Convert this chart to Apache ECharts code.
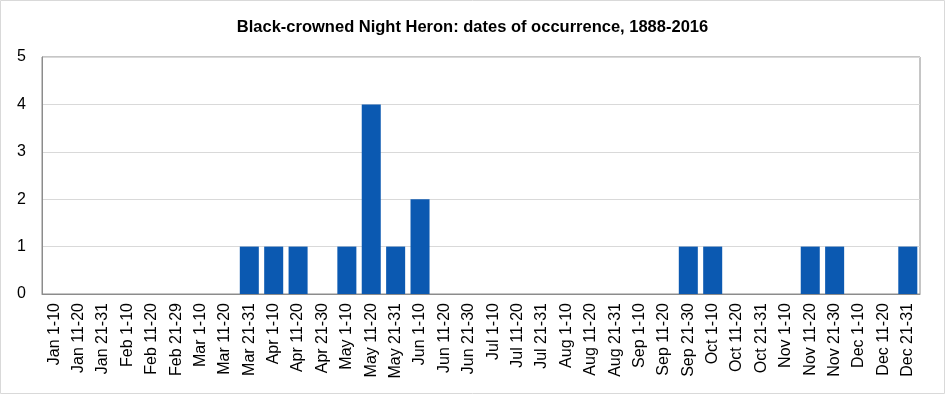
<!DOCTYPE html>
<html>
<head>
<meta charset="utf-8">
<script src="https://cdn.jsdelivr.net/npm/echarts@6/dist/echarts.min.js"></script>
<style>
html,body{margin:0;padding:0;background:#fff;}
#chart{width:945px;height:394px;}
</style>
</head>
<body>
<div id="chart"></div>
<script>
const categories = [
  "Jan 1-10","Jan 11-20","Jan 21-31","Feb 1-10","Feb 11-20","Feb 21-29",
  "Mar 1-10","Mar 11-20","Mar 21-31","Apr 1-10","Apr 11-20","Apr 21-30",
  "May 1-10","May 11-20","May 21-31","Jun 1-10","Jun 11-20","Jun 21-30",
  "Jul 1-10","Jul 11-20","Jul 21-31","Aug 1-10","Aug 11-20","Aug 21-31",
  "Sep 1-10","Sep 11-20","Sep 21-30","Oct 1-10","Oct 11-20","Oct 21-31",
  "Nov 1-10","Nov 11-20","Nov 21-30","Dec 1-10","Dec 11-20","Dec 21-31"
];
const occurrences = [
  0,0,0,0,0,0,
  0,0,1,1,1,0,
  1,4,1,2,0,0,
  0,0,0,0,0,0,
  0,0,1,1,0,0,
  0,1,1,0,0,1
];
const titleText = "Black-crowned Night Heron: dates of occurrence, 1888-2016";

const chart = echarts.init(document.getElementById('chart'), null, {renderer:'canvas'});
chart.setOption({
  animation: false,
  title: {
    text: titleText,
    left: 'center',
    top: 14,
    textStyle: {fontFamily: 'Liberation Sans, Arial, sans-serif', fontSize: 16.5, fontWeight: 'bold', color: '#000'}
  },
  graphic: [{
    type: 'rect',
    shape: {x: 0.5, y: 0.5, width: 944, height: 393},
    style: {fill: 'none', stroke: '#d9d9d9', lineWidth: 1},
    silent: true
  }],
  grid: {
    left: 42, right: 25, top: 57, bottom: 100,
    show: true, borderColor: '#8c8c8c', borderWidth: 1, backgroundColor: 'transparent'
  },
  xAxis: {
    type: 'category',
    data: categories,
    axisLine: {lineStyle: {color: '#8c8c8c'}},
    axisTick: {show: false},
    axisLabel: {
      interval: 0, rotate: 90, margin: 9,
      fontFamily: 'Liberation Sans, Arial, sans-serif', fontSize: 16, color: '#000'
    }
  },
  yAxis: {
    type: 'value',
    min: 0, max: 5, interval: 1,
    axisLine: {show: true, lineStyle: {color: '#8c8c8c'}},
    axisTick: {show: false},
    splitLine: {lineStyle: {color: '#d9d9d9'}},
    axisLabel: {margin: 16, fontFamily: 'Liberation Sans, Arial, sans-serif', fontSize: 16, color: '#000'}
  },
  series: [{
    type: 'bar',
    data: occurrences,
    barCategoryGap: '22%',
    itemStyle: {color: '#0b59b1'}
  }]
});
</script>
</body>
</html>
